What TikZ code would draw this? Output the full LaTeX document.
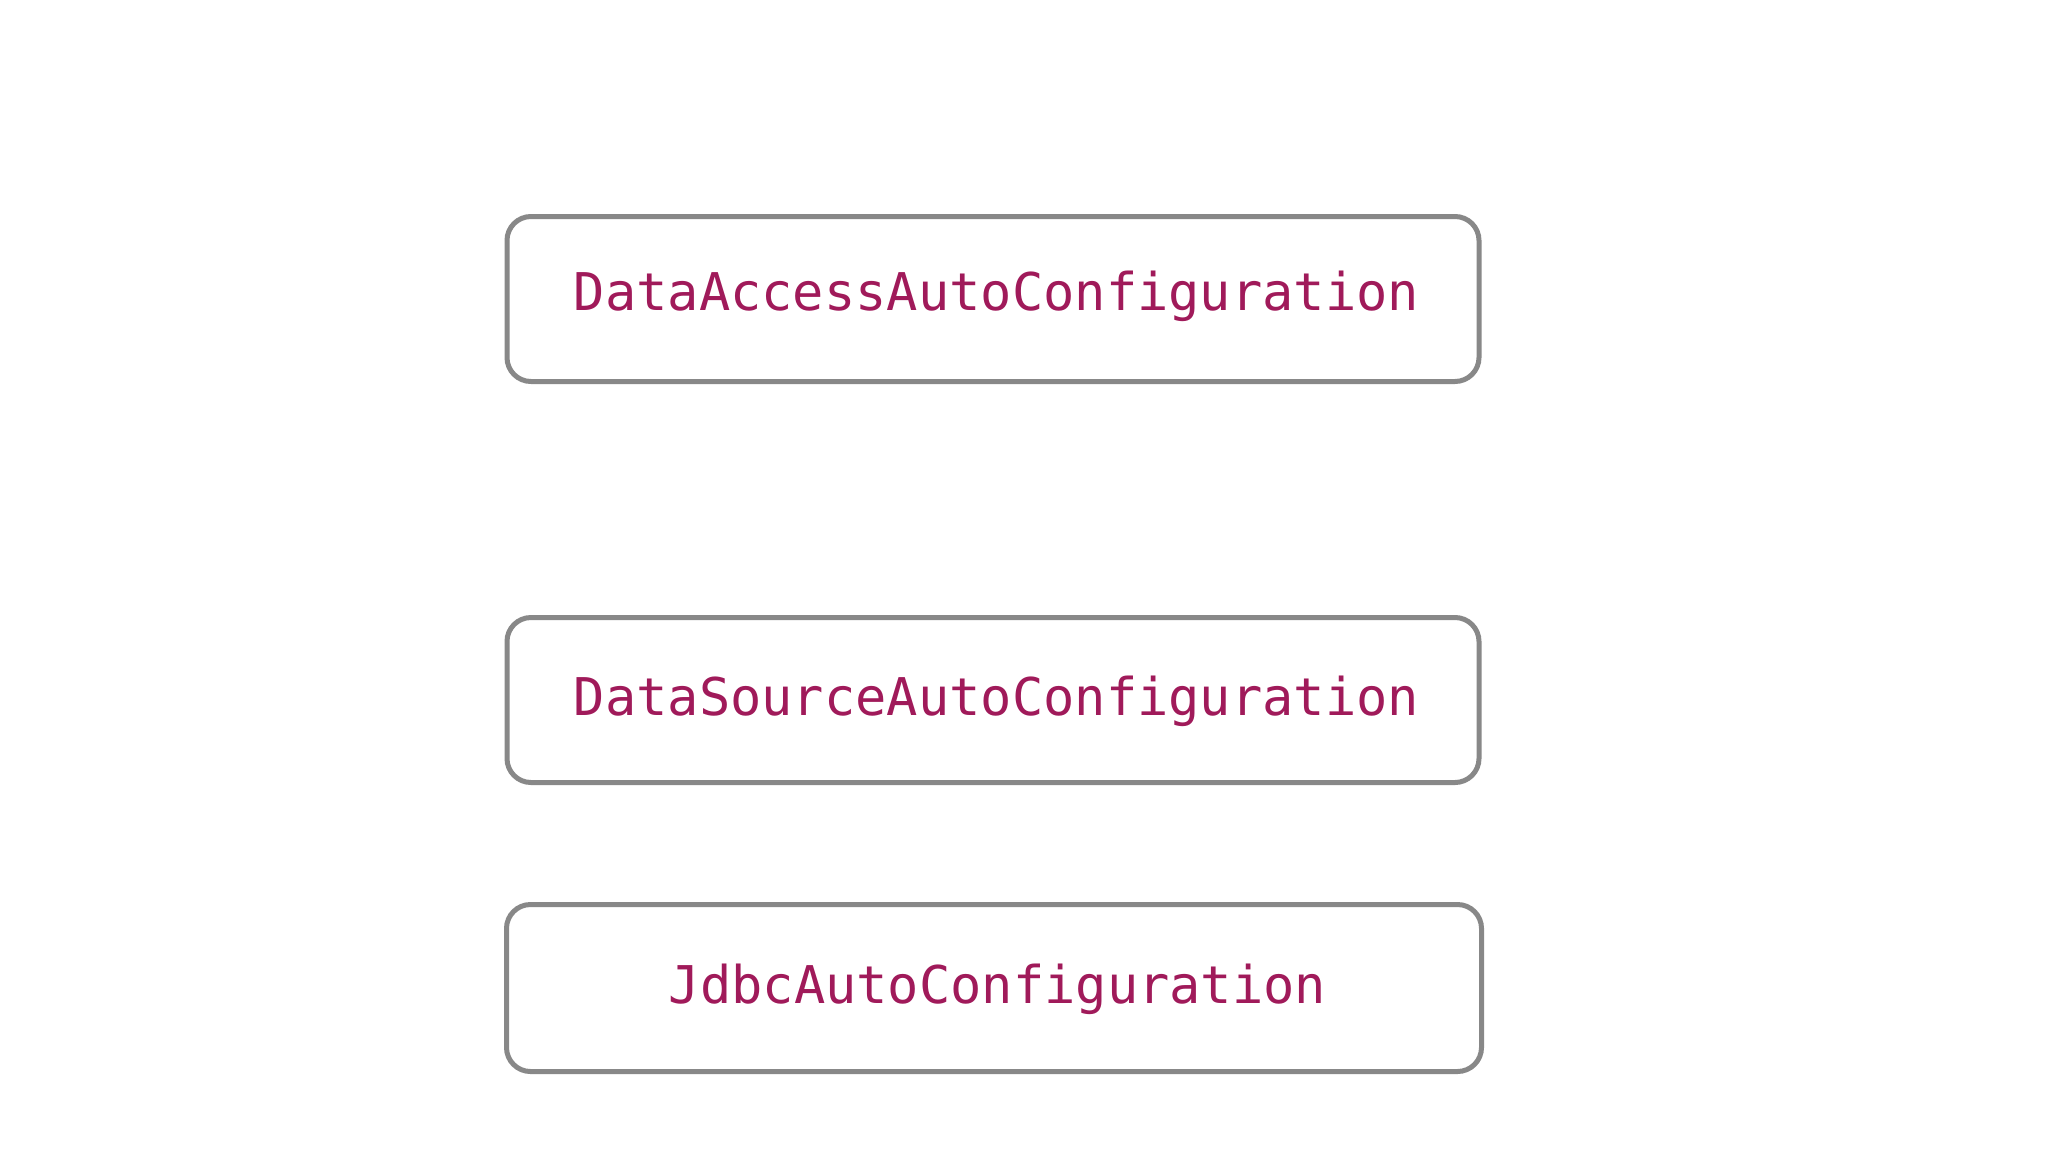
\documentclass[tikz,border=0pt]{standalone}
\usepackage{fontspec}
\newfontfamily\codefont{DejaVu Sans Mono}
\definecolor{codecol}{RGB}{160,26,90}
\definecolor{boxgray}{RGB}{136,136,136}
\newcommand{\cfgtext}[1]{\hspace*{7pt}#1}
\begin{document}
\begin{tikzpicture}[x=1pt,y=-1pt,
  cfgbox/.style={draw=boxgray, line width=5pt, rounded corners=24pt,
    minimum width=972pt, minimum height=165pt, inner sep=0pt,
    text height=38pt, text depth=16pt,
    text=codecol, font=\codefont\fontsize{52}{60}\selectfont},
  lowtext/.style={text height=42pt, text depth=12pt}]
\fill[white] (0,0) rectangle (2048,1152);
\useasboundingbox (0,0) rectangle (2048,1152);
\node[cfgbox] (dataaccess) at (993,299) {\cfgtext{DataAccessAutoConfiguration}};
\node[cfgbox, lowtext] (datasource) at (993,700) {\cfgtext{DataSourceAutoConfiguration}};
\node[cfgbox, lowtext, minimum width=975pt, minimum height=167pt] (jdbc) at (994,988) {\cfgtext{JdbcAutoConfiguration}};
\end{tikzpicture}
\end{document}
